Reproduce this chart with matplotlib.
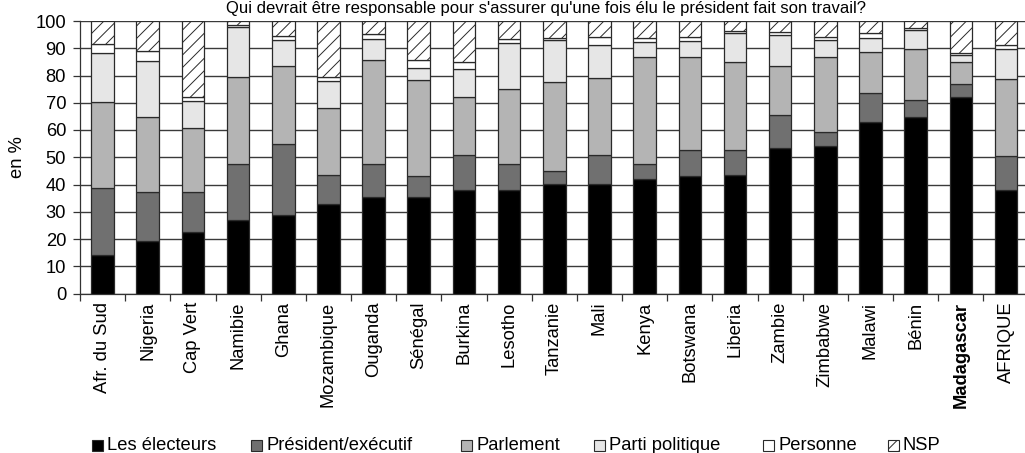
import matplotlib
matplotlib.use("Agg")
import matplotlib.pyplot as plt
from matplotlib.patches import Rectangle
import numpy as np

plt.rcParams['font.family'] = ['Liberation Sans', 'DejaVu Sans']

# Rendered at 75 dpi so the diagonal hatch gets a tighter spacing;
# sizes below are given in points for that resolution.
DPI = 75
K = 100 / DPI
plt.rcParams['hatch.linewidth'] = 0.7 * K
plt.rcParams['hatch.color'] = '#333333'

countries = ["Afr. du Sud", "Nigeria", "Cap Vert", "Namibie", "Ghana", "Mozambique",
             "Ouganda", "Sénégal", "Burkina", "Lesotho", "Tanzanie", "Mali", "Kenya",
             "Botswana", "Liberia", "Zambie", "Zimbabwe", "Malawi", "Bénin",
             "Madagascar", "AFRIQUE"]

electeurs = [14.0, 19.3, 22.6, 26.8, 28.7, 32.7, 35.4, 35.4, 38.1, 38.1, 40.3,
             40.3, 42.1, 43.0, 43.6, 53.5, 54.2, 62.8, 64.9, 72.0, 38.1]
president = [24.7, 18.1, 14.6, 20.7, 26.2, 10.9, 12.2, 7.6, 12.8, 9.5, 4.5,
             10.6, 5.5, 9.7, 9.1, 12.1, 5.2, 10.8, 6.1, 4.9, 12.5]
parlement = [31.7, 27.2, 23.6, 32.0, 28.5, 24.5, 38.0, 35.3, 21.3, 27.4, 32.9,
             28.0, 39.2, 34.1, 32.3, 17.9, 27.4, 15.2, 18.7, 8.1, 28.1]
parti = [17.8, 20.8, 9.9, 18.2, 9.7, 10.0, 7.9, 4.6, 10.1, 17.1, 15.2,
         12.2, 5.5, 5.9, 10.5, 11.3, 6.1, 4.9, 6.9, 2.6, 11.0]
personne = [3.4, 3.5, 1.3, 0.8, 1.4, 1.2, 1.6, 2.7, 2.5, 1.2, 1.0,
            3.2, 1.4, 1.4, 0.8, 1.3, 1.2, 1.8, 0.7, 0.8, 1.5]
nsp = [8.4, 11.1, 28.0, 1.5, 5.5, 20.7, 4.9, 14.4, 15.2, 6.7, 6.1,
       5.7, 6.3, 5.9, 3.7, 3.9, 5.9, 4.5, 2.7, 11.6, 8.8]

series_names = ["Les électeurs", "Président/exécutif", "Parlement",
                "Parti politique", "Personne", "NSP"]
series_values = [electeurs, president, parlement, parti, personne, nsp]
colors = ["#000000", "#707070", "#b4b4b4", "#e6e6e6", "#ffffff", "#ffffff"]
hatches = [None, None, None, None, None, "//"]

title = "Qui devrait être responsable pour s'assurer qu'une fois élu le président fait son travail?"

W, H = 1025, 453
fig = plt.figure(figsize=(W / DPI, H / DPI), dpi=DPI)
ax = fig.add_axes([80 / W, 159.5 / H, 948.6 / W, 272.5 / H])

fs = 13.2 * K
edge = '#2a2a2a'

x = np.arange(len(countries))
bottom = np.zeros(len(countries))
for vals, col, h in zip(series_values, colors, hatches):
    v = np.array(vals)
    ax.bar(x, v, width=0.5, bottom=bottom, color=col, edgecolor=edge,
           linewidth=0.9 * K, hatch=h, zorder=3)
    bottom += v

ax.set_xlim(-0.5, len(countries) - 0.5)
ax.set_ylim(0, 100)
ax.set_yticks(np.arange(0, 101, 10))
ax.yaxis.grid(True, color='#3a3a3a', linewidth=1.0 * K, zorder=0)
ax.set_axisbelow(True)

ax.set_xticks(x)
ax.set_xticklabels(countries, rotation=90, fontsize=fs)
ax.set_xticks(np.arange(-0.5, len(countries), 1), minor=True)
ax.tick_params(axis='x', which='major', length=0, pad=6 * K)
ax.tick_params(axis='x', which='minor', length=5 * K, width=0.9 * K, color='#333333')
ax.tick_params(axis='y', length=5 * K, width=0.9 * K, color='#333333', pad=5 * K,
               labelsize=fs)
for lbl in ax.get_xticklabels():
    if lbl.get_text() == "Madagascar":
        lbl.set_fontweight('bold')

for side in ['top', 'right']:
    ax.spines[side].set_visible(False)
for side in ['left', 'bottom']:
    ax.spines[side].set_color('#333333')
    ax.spines[side].set_linewidth(0.9 * K)

ax.set_ylabel("en %", fontsize=fs)
ax.yaxis.set_label_coords((26 - 80) / 948.6, 0.5)

fig.text(546 / W, 1 - 1 / H, title, ha='center', va='top', fontsize=12 * K)

# legend drawn as individual swatches along the bottom
legend_x = [92, 251, 461, 594, 763, 888]
sw = 11
ly = 445
for name, col, h, lx in zip(series_names, colors, hatches, legend_x):
    rect = Rectangle((lx / W, (H - ly - sw / 2) / H), sw / W, sw / H,
                     transform=fig.transFigure, facecolor=col, edgecolor=edge,
                     linewidth=0.8 * K, hatch=h)
    fig.patches.append(rect)
    fig.text((lx + sw + 4) / W, (H - ly) / H, name, ha='left', va='center',
             fontsize=fs)

fig.savefig("out.png", dpi=DPI)
